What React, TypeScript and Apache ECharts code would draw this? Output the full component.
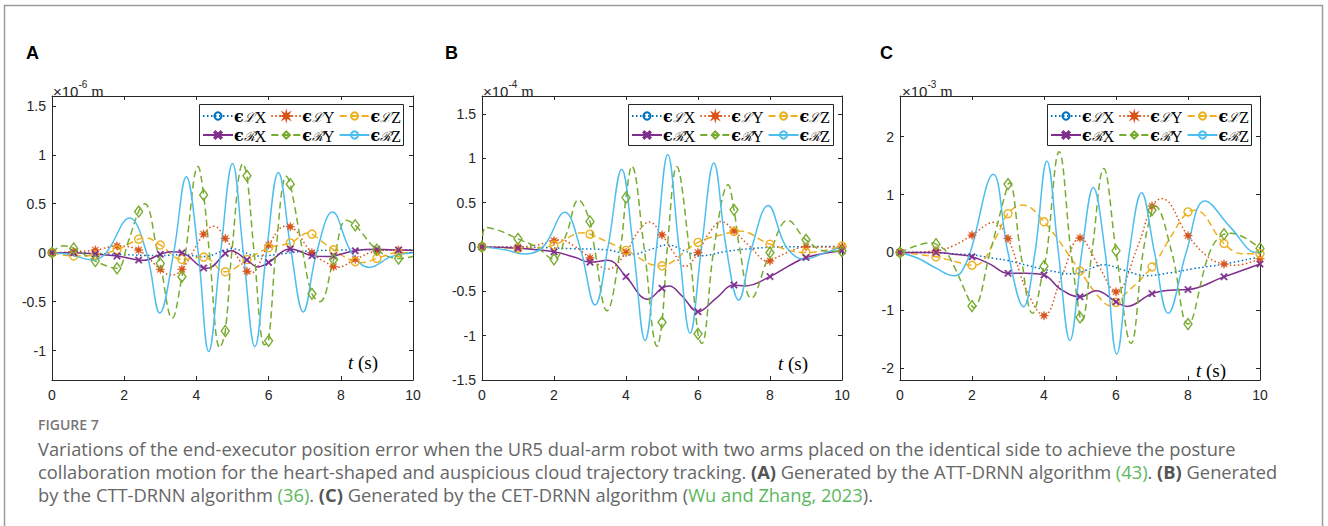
import React, { useEffect, useRef } from "react";
import * as echarts from "echarts";

// ---------------- DATA (time in s, error values in panel units) ----------------
const SERIES_NAMES = ["ϵℒX", "ϵℒY", "ϵℒZ", "ϵℛX", "ϵℛY", "ϵℛZ"];
const X_TICKS = [0, 2, 4, 6, 8, 10];
const A_Y_TICKS = [-1, -0.5, 0, 0.5, 1, 1.5];
const B_Y_TICKS = [-1.5, -1, -0.5, 0, 0.5, 1, 1.5];
const C_Y_TICKS = [-2, -1, 0, 1, 2];
const EXPONENTS = ["-6", "-4", "-3"];
const PANEL_LABELS = ["A", "B", "C"];
const MARKER_STEPS = [0.6, 1, 1];

// Panel A (x10^-6 m)
const A_LX = [[0,0],[1,-0.005],[2,-0.02],[3,-0.03],[3.6,-0.02],[4.2,-0.04],[5.0,0.04],[5.7,-0.035],[6.2,-0.02],[7,0.015],[8,0.027],[9,0.03],[10,0.03]];
const A_LY = [[0,0],[0.6,0.01],[1.2,0.027],[1.8,0.068],[2.4,0.027],[3.0,-0.17],[3.3,-0.23],[3.6,-0.17],[4.2,0.19],[4.48,0.27],[4.8,0.146],[5.4,-0.19],[5.5,-0.21],[6.0,0.078],[6.45,0.27],[6.6,0.265],[7.2,0],[7.8,-0.143],[7.9,-0.15],[8.4,-0.068],[9.0,0.017],[9.6,0.027],[10,0.02]];
const A_LZ = [[0,0],[0.6,-0.034],[1.2,-0.024],[1.8,0.03],[2.4,0.138],[2.6,0.15],[3.0,0.078],[3.6,-0.068],[4.2,-0.045],[4.8,-0.195],[5.4,-0.07],[6.0,0.05],[6.6,0.1],[7.1,0.2],[7.2,0.19],[7.8,0.03],[8.4,-0.092],[8.6,-0.1],[9.0,-0.058],[9.6,0],[10,0]];
const A_RX = [[0,0],[0.6,0],[1.2,-0.014],[1.8,-0.035],[2.4,-0.075],[2.55,-0.078],[3.0,-0.017],[3.3,0.01],[3.6,0],[4.2,-0.156],[4.3,-0.16],[4.8,-0.007],[4.95,0.02],[5.4,-0.075],[5.7,-0.145],[6.0,-0.1],[6.6,0.037],[7.2,-0.03],[7.6,-0.04],[7.8,-0.034],[8.4,0.02],[9.0,0.034],[9.6,0.027],[10,0.025]];
const A_RY = [[0,0],[0.3,0.07],[0.6,0.044],[1.2,-0.085],[1.8,-0.16],[2.1,0.1],[2.4,0.42],[2.57,0.5],[2.93,0],[3.0,-0.11],[3.33,-0.67],[3.6,-0.245],[3.7,0],[4.05,0.88],[4.2,0.59],[4.36,0],[4.65,-0.97],[4.8,-0.8],[4.98,0],[5.29,0.91],[5.4,0.785],[5.6,0],[5.89,-0.94],[6.0,-0.9],[6.2,0],[6.49,0.78],[6.6,0.7],[6.95,0],[7.2,-0.42],[7.42,-0.5],[7.8,-0.07],[8.15,0.33],[8.4,0.28],[9.0,0.03],[9.6,-0.06],[10,-0.04]];
const A_RZ = [[0,0],[0.5,-0.02],[1.15,-0.075],[1.5,0],[2.15,0.355],[2.62,0],[2.985,-0.615],[3.37,0],[3.72,0.776],[4.05,0],[4.34,-1.01],[4.67,0],[5.0,0.91],[5.3,0],[5.62,-0.96],[5.94,0],[6.27,0.82],[6.63,0],[6.96,-0.605],[7.33,0],[7.77,0.415],[8.3,0],[8.8,-0.15],[9.4,-0.04],[10,0]];

// Panel B (x10^-4 m)
const B_LX = [[0,0],[1.5,-0.005],[2.5,-0.02],[3.5,-0.035],[4.15,-0.09],[4.6,-0.04],[5.17,0.022],[5.6,-0.04],[6.05,-0.1],[6.8,-0.05],[7.6,-0.015],[8.3,0],[9,0.003],[10,0.005]];
const B_LY = [[0,0],[1,0],[1.5,0.02],[2,0.07],[2.15,0.08],[2.6,0],[3,-0.124],[3.5,-0.25],[4,-0.064],[4.3,0.15],[4.65,0.28],[5,0.135],[5.3,-0.05],[5.65,-0.22],[6,-0.064],[6.3,0.15],[6.65,0.285],[7,0.18],[7.45,0],[7.95,-0.165],[8,-0.158],[8.5,-0.06],[9,0],[10,0]];
const B_LZ = [[0,0],[1,-0.015],[1.5,-0.01],[2,0.02],[2.8,0.16],[3,0.143],[4,-0.04],[4.95,-0.215],[5,-0.214],[6,0.05],[7,0.173],[7.15,0.18],[8,0.03],[9,-0.064],[10,0.01]];
const B_RX = [[0,0],[1,-0.015],[2,-0.056],[2.6,-0.12],[3,-0.173],[3.5,-0.15],[4,-0.335],[4.6,-0.59],[5,-0.466],[5.2,-0.44],[5.55,-0.55],[6,-0.73],[6.5,-0.58],[7,-0.43],[7.3,-0.44],[8,-0.335],[8.5,-0.22],[9,-0.12],[10,-0.045]];
const B_RY = [[0,0],[0.1,0.22],[0.5,0.18],[1,0.09],[1.5,0],[2,-0.14],[2.35,0.15],[2.68,0.53],[3,0.286],[3.12,0],[3.47,-0.72],[3.85,0],[4,0.556],[4.16,0.91],[4.5,0],[4.87,-1.12],[5,-0.85],[5.15,0],[5.41,0.906],[5.75,0],[6,-0.98],[6.1,-1.09],[6.45,0],[6.84,0.7],[7,0.417],[7.15,0],[7.48,-0.58],[8,-0.064],[8.5,0.3],[9,0.079],[9.6,-0.05],[10,-0.05]];
const B_RZ = [[0,0],[0.6,-0.03],[1.2,-0.08],[1.7,0],[2.3,0.39],[2.72,0],[3.14,-0.655],[3.5,0],[3.88,0.876],[4.2,0],[4.53,-1.056],[4.85,0],[5.16,1.04],[5.47,0],[5.78,-0.974],[6.1,0],[6.44,0.944],[6.78,0],[7.13,-0.6],[7.5,0],[7.95,0.466],[8.45,0],[8.96,-0.14],[9.5,-0.07],[10,0]];

// Panel C (x10^-3 m)
const C_LX = [[0,0],[1,-0.005],[1.67,-0.03],[2,-0.04],[2.59,-0.1],[3,-0.14],[3.52,-0.22],[4.07,-0.3],[4.81,-0.37],[5.2,-0.3],[5.65,-0.21],[6.2,-0.3],[6.85,-0.4],[7.5,-0.35],[8.15,-0.28],[9,-0.2],[10,-0.075]];
const C_LY = [[0,0],[1,0.03],[1.5,0.12],[2,0.3],[2.6,0.52],[3,0.24],[3.5,-0.63],[4,-1.09],[4.5,-0.4],[5,0.25],[5.5,-0.21],[6,-0.68],[6.6,0.1],[7,0.8],[7.27,0.93],[8,0.29],[8.6,-0.1],[9,-0.2],[9.3,-0.22],[10,-0.11]];
const C_LZ = [[0,0],[1,-0.075],[1.5,-0.15],[2,-0.22],[2.2,-0.2],[2.7,0.3],[3,0.67],[3.4,0.82],[4,0.53],[5,-0.32],[5.5,-0.75],[5.85,-0.92],[6,-0.86],[7,-0.25],[7.5,0.25],[8,0.7],[8.2,0.73],[9,0.155],[9.5,-0.02],[10,-0.02]];
const C_RX = [[0,0],[1,0],[1.5,-0.03],[2,-0.075],[2.5,-0.2],[3,-0.36],[3.5,-0.36],[4,-0.39],[4.45,-0.63],[5,-0.765],[5.45,-0.66],[6,-0.85],[6.3,-0.93],[7,-0.71],[7.5,-0.65],[8,-0.64],[9,-0.42],[10,-0.2]];
const C_RY = [[0,0],[0.9,0.17],[1,0.144],[1.3,0],[2,-0.925],[2.05,-0.95],[2.5,0],[3,1.18],[3.05,1.2],[3.35,0],[3.68,-1.05],[4,-0.236],[4.08,0],[4.42,1.74],[4.75,0],[5,-1.12],[5.05,-1.18],[5.33,0],[5.66,1.45],[6,0.03],[6.42,-1.57],[6.75,0],[7,0.73],[7.08,0.8],[7.55,0],[8,-1.235],[8.6,0],[9,0.316],[9.2,0.33],[10,0.07]];
const C_RZ = [[0,0],[0.5,-0.1],[1,-0.27],[1.5,-0.4],[1.7,-0.34],[1.95,0],[2.59,1.35],[3.0,0],[3.43,-0.937],[3.75,0],[4.08,1.58],[4.4,0],[4.72,-1.52],[5.05,0],[5.37,1.12],[5.7,0],[6.02,-1.75],[6.37,0],[6.71,1.03],[7.07,0],[7.45,-1.05],[7.95,0],[8.47,0.89],[9.2,0.42],[9.9,0],[10,0]];

const CAPTION_TITLE = "FIGURE 7";
const CAPTION_1 = "Variations of the end-executor position error when the UR5 dual-arm robot with two arms placed on the identical side to achieve the posture";
const CAPTION_2 = "{n|collaboration motion for the heart-shaped and auspicious cloud trajectory tracking. }{b|(A)}{n| Generated by the ATT-DRNN algorithm }{g|(43)}{n|. }{b|(B)}{n| Generated}";
const CAPTION_3 = "{n|by the CTT-DRNN algorithm }{g|(36)}{n|. }{b|(C)}{n| Generated by the CET-DRNN algorithm (}{g|Wu and Zhang, 2023}{n|).}";

// ---------------- STYLES / LAYOUT ----------------
const STAR = (() => {
  let d = "";
  for (let i = 0; i < 16; i++) {
    const r = i % 2 === 0 ? 1 : 0.4;
    const a = (Math.PI * i) / 8 - Math.PI / 2;
    d += (i ? "L" : "M") + (r * Math.cos(a) + 1).toFixed(3) + "," + (r * Math.sin(a) + 1).toFixed(3);
  }
  return "path://" + d + "Z";
})();
const XMARK = "path://M0,1.4L1.4,0L5,3.6L8.6,0L10,1.4L6.4,5L10,8.6L8.6,10L5,6.4L1.4,10L0,8.6L3.6,5Z";

const STYLES: any[] = [
  { color: "#0072BD", type: [1.5, 2.5], symbol: "none" },
  { color: "#D95319", type: [1.5, 2.5], symbol: STAR, size: 9, fill: true },
  { color: "#EDB120", type: [7, 4], symbol: "circle", size: 8, fill: false },
  { color: "#7E2F8E", type: "solid", symbol: XMARK, size: 7, fill: true },
  { color: "#77AC30", type: [7, 4], symbol: "diamond", size: [8, 11], fill: false },
  { color: "#4DBEEE", type: "solid", symbol: "none" },
];

const PANELS = [
  { data: [A_LX, A_LY, A_LZ, A_RX, A_RY, A_RZ], yMin: -1.3, yMax: 1.6, yTicks: A_Y_TICKS, left: 52, width: 361, labelX: 26, boxX: 199, boxW: 204, tX: 348, tY: 362, expX: 53 },
  { data: [B_LX, B_LY, B_LZ, B_RX, B_RY, B_RZ], yMin: -1.5, yMax: 1.7, yTicks: B_Y_TICKS, left: 482, width: 360, labelX: 445, boxX: 628, boxW: 205, tX: 778, tY: 363, expX: 483 },
  { data: [C_LX, C_LY, C_LZ, C_RX, C_RY, C_RZ], yMin: -2.2, yMax: 2.7, yTicks: C_Y_TICKS, left: 900, width: 360, labelX: 880, boxX: 1047, boxW: 204, tX: 1196, tY: 370, expX: 902 },
];

const AXIS_COLOR = "#262626";
const SANS = "'Liberation Sans', Arial, Helvetica, sans-serif";
const SERIF = "'Liberation Serif', 'DejaVu Serif', 'Times New Roman', serif";

function isMarker(t: number, step: number) {
  const k = t / step;
  return Math.abs(k - Math.round(k)) < 1e-6;
}

function captionFontSize() {
  try {
    const ctx = document.createElement("canvas").getContext("2d")!;
    ctx.font = "16px 'Open Sans'";
    const w = ctx.measureText(CAPTION_1).width;
    if (w > 0) return Math.max(13, Math.min(19, (16 * 1198) / w));
  } catch (e) {}
  return 16;
}

function buildOption() {
  const grid: any[] = [];
  const xAxis: any[] = [];
  const yAxis: any[] = [];
  const series: any[] = [];
  const legend: any[] = [];
  const elements: any[] = [];

  const axisLine = { show: true, onZero: false, lineStyle: { color: AXIS_COLOR, width: 1 } };
  const tickStyle = { color: AXIS_COLOR, width: 1 };

  const legendRich = {
    e: { fontFamily: "'DejaVu Serif', serif", fontSize: 16, fontWeight: "bold", color: "#000", lineHeight: 18 },
    s: { fontFamily: "'DejaVu Serif', serif", fontStyle: "italic", fontSize: 13, color: "#000", lineHeight: 18, padding: [3, 0, 0, 0] },
    x: { fontFamily: SERIF, fontSize: 16, color: "#000", lineHeight: 18, padding: [2, 0, 0, 0] },
  };
  const legendFormatter = (name: string) => `{e|${name.charAt(0)}}{s|${name.charAt(1)}}{x|${name.charAt(2)}}`;

  PANELS.forEach((p, i) => {
    grid.push({ left: p.left, top: 96, width: p.width, height: 284, containLabel: false, outerBoundsMode: "none" });
    const xBase = { gridIndex: i, type: "value", min: 0, max: 10, interval: 2, axisLine, splitLine: { show: false } };
    xAxis.push({
      ...xBase, position: "bottom",
      axisTick: { show: true, inside: true, length: 4, lineStyle: tickStyle, customValues: X_TICKS },
      axisLabel: { show: true, color: AXIS_COLOR, fontSize: 14, fontFamily: SANS, margin: 8, customValues: X_TICKS },
    });
    xAxis.push({
      ...xBase, position: "top",
      axisTick: { show: true, inside: true, length: 4, lineStyle: tickStyle, customValues: X_TICKS },
      axisLabel: { show: false },
    });
    const yBase = { gridIndex: i, type: "value", min: p.yMin, max: p.yMax, axisLine, splitLine: { show: false } };
    yAxis.push({
      ...yBase, position: "left",
      axisTick: { show: true, inside: true, length: 4, lineStyle: tickStyle, customValues: p.yTicks },
      axisLabel: { show: true, color: AXIS_COLOR, fontSize: 14, fontFamily: SANS, margin: 6, customValues: p.yTicks, formatter: (v: number) => String(v) },
    });
    yAxis.push({
      ...yBase, position: "right",
      axisTick: { show: true, inside: true, length: 4, lineStyle: tickStyle, customValues: p.yTicks },
      axisLabel: { show: false },
    });

    p.data.forEach((arr, k) => {
      const st = STYLES[k];
      const hasMarker = st.symbol !== "none";
      series.push({
        type: "line",
        name: SERIES_NAMES[k],
        xAxisIndex: i * 2,
        yAxisIndex: i * 2,
        smooth: 0.4,
        z: 2 + (k === 5 ? 0 : 0),
        symbol: st.symbol,
        symbolSize: st.size || 6,
        showSymbol: hasMarker,
        showAllSymbol: true,
        clip: true,
        data: arr.map(([t, v]) =>
          hasMarker && isMarker(t, MARKER_STEPS[i]) ? { value: [t, v] } : { value: [t, v], symbol: "none" }
        ),
        lineStyle: { color: st.color, width: 1.5, type: st.type },
        itemStyle: st.fill
          ? { color: st.color, borderColor: st.color, borderWidth: 0.5 }
          : { color: "rgba(255,255,255,0)", borderColor: st.color, borderWidth: 1.4 },
        emphasis: { disabled: true },
        silent: true,
      });
    });

    // legend box + two rows
    elements.push({
      type: "rect", z: 8, silent: true,
      shape: { x: p.boxX + 0.5, y: 104.5, width: p.boxW, height: 41 },
      style: { fill: "#fff", stroke: AXIS_COLOR, lineWidth: 1 },
    });
    [0, 1].forEach((row) => {
      legend.push({
        left: p.boxX + 3, top: row === 0 ? 107 : 126, orient: "horizontal",
        data: SERIES_NAMES.slice(row * 3, row * 3 + 3),
        itemWidth: 30, itemHeight: 9, itemGap: 4, padding: 0, z: 10,
        selectedMode: false, formatter: legendFormatter,
        textStyle: { rich: legendRich, padding: [0, 0, 0, -4] },
      });
    });

    // panel label
    elements.push({
      type: "text", x: p.labelX, y: 53, silent: true,
      style: { text: PANEL_LABELS[i], fontFamily: SANS, fontWeight: "bold", fontSize: 18, fill: "#000", verticalAlign: "middle" },
    });
    // exponent
    elements.push({
      type: "text", x: p.expX, y: 89, silent: true,
      style: {
        text: `{a|×10}{b|${EXPONENTS[i]}}{c| m}`, verticalAlign: "middle",
        rich: {
          a: { fontFamily: SANS, fontSize: 15, fill: AXIS_COLOR, lineHeight: 20, verticalAlign: "bottom" },
          b: { fontFamily: SANS, fontSize: 10, fill: AXIS_COLOR, lineHeight: 20, verticalAlign: "top" },
          c: { fontFamily: SERIF, fontSize: 16, fill: AXIS_COLOR, lineHeight: 20, verticalAlign: "bottom" },
        },
      },
    });
    // t (s)
    elements.push({
      type: "text", x: p.tX, y: p.tY, silent: true, z: 1,
      style: {
        text: "{t|t}{s| (s)}", verticalAlign: "middle",
        rich: {
          t: { fontFamily: SERIF, fontStyle: "italic", fontSize: 19, fill: "#000" },
          s: { fontFamily: SERIF, fontSize: 19, fill: "#000" },
        },
      },
    });
  });

  // outer frame
  elements.push({
    type: "rect", silent: true, z: 0,
    shape: { x: 4.5, y: 5.5, width: 1318, height: 560 },
    style: { fill: "none", stroke: "#9a9a9a", lineWidth: 1.5 },
  });

  const cfs = captionFontSize();
  const CAP = "'Open Sans', 'Noto Sans', sans-serif";
  elements.push({
    type: "text", x: 38, y: 424, silent: true,
    style: { text: CAPTION_TITLE, fontFamily: CAP, fontSize: 14, fontWeight: 600, fill: "#777", verticalAlign: "middle" },
  });
  const capRich = {
    n: { fontFamily: CAP, fontSize: cfs, fill: "#666" },
    b: { fontFamily: CAP, fontSize: cfs, fill: "#555", fontWeight: "bold" },
    g: { fontFamily: CAP, fontSize: cfs, fill: "#5cb85c" },
  };
  elements.push({
    type: "text", x: 38, y: 448, silent: true,
    style: { text: `{n|${CAPTION_1}}`, rich: capRich, verticalAlign: "middle" },
  });
  elements.push({
    type: "text", x: 38, y: 471, silent: true,
    style: { text: CAPTION_2, rich: capRich, verticalAlign: "middle" },
  });
  elements.push({
    type: "text", x: 38, y: 494, silent: true,
    style: { text: CAPTION_3, rich: capRich, verticalAlign: "middle" },
  });

  return {
    animation: false,
    backgroundColor: "#fff",
    grid, xAxis, yAxis, series, legend,
    graphic: { elements },
  };
}

export default function App() {
  const ref = useRef<HTMLDivElement>(null);
  useEffect(() => {
    if (!ref.current) return;
    const chart = echarts.init(ref.current, null, { renderer: "svg" });
    chart.setOption(buildOption() as any);
    return () => chart.dispose();
  }, []);
  return (
    <div
      ref={ref}
      style={{ position: "absolute", left: 0, top: 0, width: 1328, height: 526, background: "#fff" }}
    />
  );
}
